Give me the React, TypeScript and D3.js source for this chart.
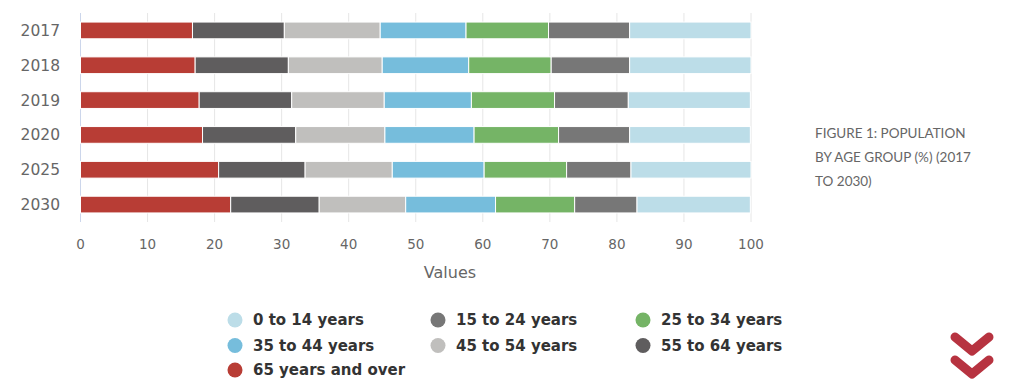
import React from 'react';
import * as d3 from 'd3';

// rows, bottom segment (65+) first
const years = ['2017', '2018', '2019', '2020', '2025', '2030'];
const groups = ['65 years and over', '55 to 64 years', '45 to 54 years', '35 to 44 years', '25 to 34 years', '15 to 24 years', '0 to 14 years'];
const colors = ['#b83d35', '#5f5d5e', '#c0bfbd', '#76bddc', '#75b466', '#777777', '#bcdde8'];

const age65plus = [16.7, 17.1, 17.7, 18.2, 20.6, 22.4];
const age55to64 = [13.7, 13.9, 13.8, 13.9, 12.9, 13.2];
const age45to54 = [14.3, 14.0, 13.8, 13.3, 13.0, 12.9];
const age35to44 = [12.8, 12.9, 13.0, 13.3, 13.7, 13.4];
const age25to34 = [12.3, 12.3, 12.4, 12.6, 12.3, 11.8];
const age15to24 = [12.1, 11.7, 11.0, 10.6, 9.6, 9.3];
const age0to14 = [18.1, 18.1, 18.2, 18.0, 17.9, 16.9];

const xTicks = [0, 10, 20, 30, 40, 50, 60, 70, 80, 90, 100];

// legend order as shown (row by row)
const legendOrder = ['0 to 14 years', '15 to 24 years', '25 to 34 years', '35 to 44 years', '45 to 54 years', '55 to 64 years', '65 years and over'];

const titleLines = ['FIGURE 1: POPULATION', 'BY AGE GROUP (%) (2017', 'TO 2030)'];

const W = 1024;
const H = 392;
const plot = { left: 80.5, right: 751, top: 13, bottom: 222 };

export default function App() {
  const series = [age65plus, age55to64, age45to54, age35to44, age25to34, age15to24, age0to14];

  const rows = years.map((y, i) => {
    const r: any = { year: y };
    groups.forEach((g, k) => { r[g] = series[k][i]; });
    return r;
  });
  const stacked = d3.stack().keys(groups)(rows);

  const x = d3.scaleLinear().domain([0, 100]).range([plot.left, plot.right]);
  const y = d3.scaleBand().domain(years).range([plot.top, plot.bottom]).paddingInner(0.52).paddingOuter(0.26);
  const color = d3.scaleOrdinal<string, string>().domain(groups).range(colors);

  const legendCols = [235, 438, 643];
  const legendRows = [320, 345.5, 370];

  return (
    <svg width={W} height={H} style={{ position: 'absolute', left: 0, top: 0, background: '#fff' }}
      fontFamily="'DejaVu Sans', sans-serif">
      {/* grid */}
      {xTicks.map(t => (
        <line key={'g' + t} x1={x(t)} x2={x(t)} y1={plot.top} y2={plot.bottom}
          stroke={t === 0 ? '#ccd6eb' : '#e6e6e6'} strokeWidth={1} />
      ))}

      {/* bars */}
      {stacked.map(layer => (
        <g key={layer.key} fill={color(layer.key)}>
          {layer.map((d, i) => (
            <rect key={i} x={x(d[0])} y={y(years[i])} width={x(d[1]) - x(d[0])} height={y.bandwidth()}
              stroke="#fff" strokeWidth={1} />
          ))}
        </g>
      ))}

      {/* y labels */}
      {years.map(yr => (
        <text key={yr} x={60} y={(y(yr) as number) + y.bandwidth() / 2} dy="0.35em" textAnchor="end"
          fontSize={15.5} fill="#666">{yr}</text>
      ))}

      {/* x labels */}
      {xTicks.map(t => (
        <text key={'t' + t} x={x(t)} y={244} dy="0.35em" textAnchor="middle" fontSize={13.5} fill="#666">{t}</text>
      ))}
      <text x={450} y={272} dy="0.35em" textAnchor="middle" fontSize={16} fill="#666">Values</text>

      {/* title */}
      {titleLines.map((l, i) => (
        <text key={l} x={815} y={133 + i * 24} dy="0.35em" fontFamily="Lato, 'Open Sans', sans-serif"
          fontSize={13.5} fill="#666">{l}</text>
      ))}

      {/* legend */}
      {legendOrder.map((g, i) => {
        const cx = legendCols[i % 3];
        const cy = legendRows[Math.floor(i / 3)];
        return (
          <g key={g}>
            <circle cx={cx} cy={cy} r={7.5} fill={color(g)} />
            <text x={cx + 18} y={cy} dy="0.35em" fontSize={15} fontWeight="bold" fill="#333">{g}</text>
          </g>
        );
      })}

      {/* scroll chevrons */}
      <g fill="none" stroke="#b73340" strokeWidth={9} strokeLinecap="round" strokeLinejoin="round">
        <path d="M955,337 L972,351 L989,337" />
        <path d="M955,360 L972,374 L989,360" />
      </g>
    </svg>
  );
}
